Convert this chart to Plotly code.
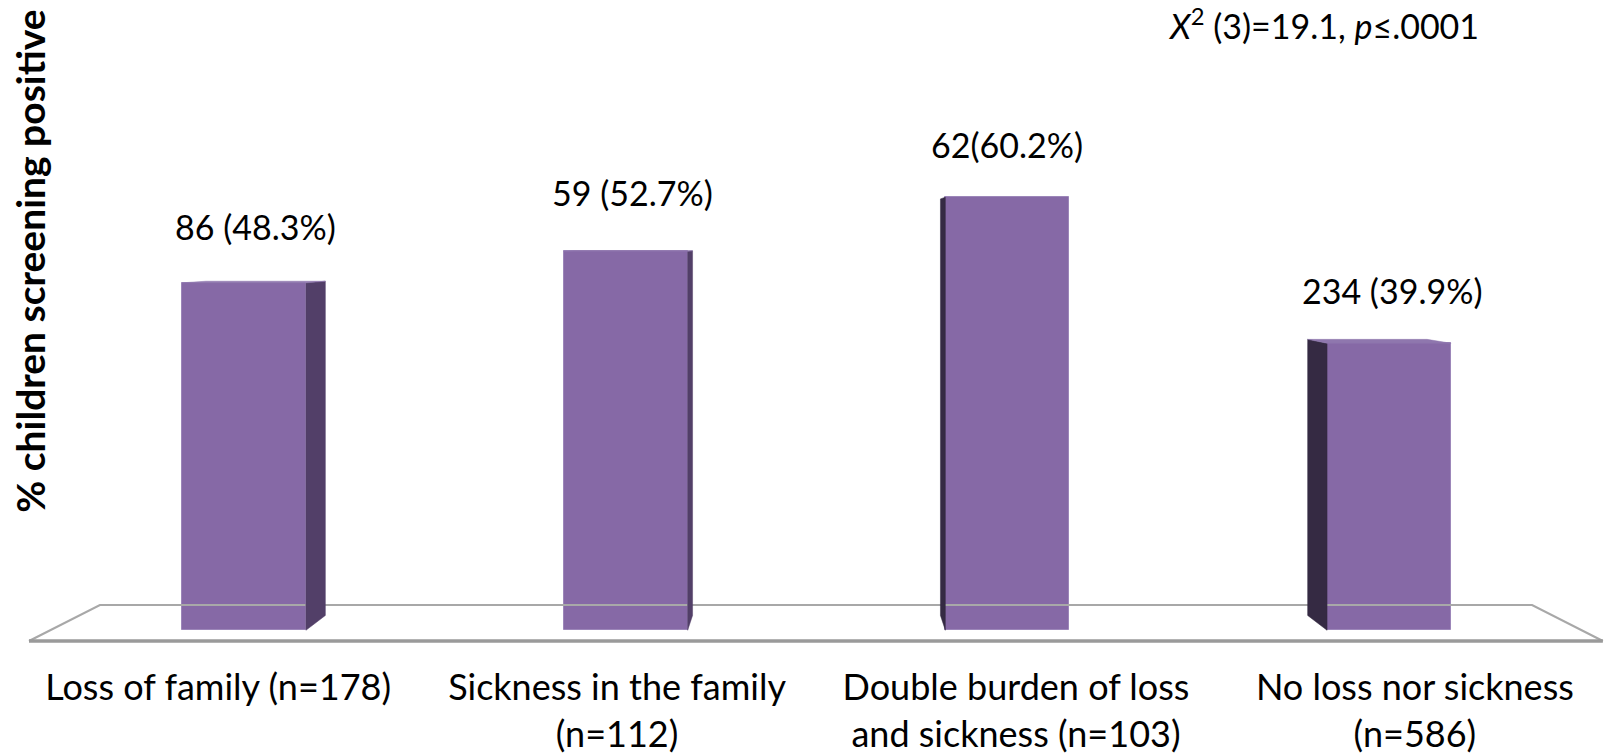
import plotly.graph_objects as go

# Screening results by family situation
categories = [
    "Loss of family (n=178)",
    "Sickness in the family<br>(n=112)",
    "Double burden of loss<br>and sickness (n=103)",
    "No loss nor sickness<br>(n=586)",
]
counts = [86, 59, 62, 234]
percents = [48.3, 52.7, 60.2, 39.9]
value_labels = ["86 (48.3%)", "59 (52.7%)", "62(60.2%)", "234 (39.9%)"]
stat_text = "<i>X</i><sup>2</sup> (3)=19.1, <i>p</i>≤.0001"
y_title = "% children screening positive"

# label nudges in pixels (x, y above bar top)
LABEL_DX = [12, 7, 0, 3]
LABEL_DY = [34, 36, 30, 30]

# --- pseudo-3D geometry (in data units) ---
BAR_W = 0.325          # width of the front face
VP_X, VP_Y = 1.5, 54.2 # vanishing point of the perspective
BAR_DEPTH = 0.962      # scale of a bar's back face toward the vanishing point
FLOOR_DEPTH = 0.91     # scale of the floor's back edge
FRONT_SCALE = 1.045    # category labels sit along the floor's front edge
FLOOR_FRONT_Y = -1.5
FLOOR_X0, FLOOR_X1 = -0.563, 3.56

FONT = "Lato"
FRONT = "#8669a6"
SIDE_RIGHT = "#523f68"
SIDE_LEFT = "#352a43"
TOP = "#8f77ae"


def back(x, y, s):
    return VP_X + (x - VP_X) * s, VP_Y + (y - VP_Y) * s


fig = go.Figure()

# floor: trapezoid seen in perspective
fl = (FLOOR_X0, FLOOR_FRONT_Y)
fr = (FLOOR_X1, FLOOR_FRONT_Y)
bl = back(*fl, FLOOR_DEPTH)
br = back(*fr, FLOOR_DEPTH)
fig.add_trace(go.Scatter(
    x=[fl[0], bl[0], br[0], fr[0]], y=[fl[1], bl[1], br[1], fr[1]],
    mode="lines", line=dict(color="#a8a8a8", width=2.2),
    hoverinfo="skip", showlegend=False,
))
fig.add_trace(go.Scatter(
    x=[fl[0], fr[0]], y=[fl[1], fr[1]],
    mode="lines", line=dict(color="#9a9a9a", width=3.5),
    hoverinfo="skip", showlegend=False,
))

# side and top faces of every bar
for i, v in enumerate(percents):
    left, right = i - BAR_W / 2, i + BAR_W / 2
    edge = right if i < VP_X else left
    color = SIDE_RIGHT if i < VP_X else SIDE_LEFT
    b_top = back(edge, v, BAR_DEPTH)
    b_bot = back(edge, 0, BAR_DEPTH)
    fig.add_trace(go.Scatter(
        x=[edge, b_top[0], b_bot[0], edge, edge],
        y=[v, b_top[1], b_bot[1], 0, v],
        fill="toself", fillcolor=color, mode="lines",
        line=dict(color=color, width=0.5),
        hoverinfo="skip", showlegend=False,
    ))
    if v < VP_Y:
        tl = back(left, v, BAR_DEPTH)
        tr = back(right, v, BAR_DEPTH)
        fig.add_trace(go.Scatter(
            x=[left, tl[0], tr[0], right, left],
            y=[v, tl[1], tr[1], v, v],
            fill="toself", fillcolor=TOP, mode="lines",
            line=dict(color=TOP, width=0.5),
            hoverinfo="skip", showlegend=False,
        ))

# front faces
fig.add_trace(go.Bar(
    x=list(range(len(categories))), y=percents, width=BAR_W,
    marker=dict(color=FRONT, line=dict(color="#9c86b9", width=1)),
    customdata=counts,
    hovertemplate="%{y}% (%{customdata})<extra></extra>",
    showlegend=False,
))

# value labels above bars
for i, (v, t) in enumerate(zip(percents, value_labels)):
    fig.add_annotation(
        x=i, y=v, text=t, showarrow=False, xanchor="center", yanchor="bottom",
        xshift=LABEL_DX[i], yshift=LABEL_DY[i],
        font=dict(family=FONT, size=34, color="#000000"),
    )

fig.add_annotation(
    xref="paper", yref="paper", x=0.825, y=0.963, text=stat_text,
    showarrow=False, xanchor="center", yanchor="middle",
    font=dict(family=FONT, size=34, color="#000000"),
)

fig.add_annotation(
    xref="paper", yref="paper", x=0.019, y=0.60, text=f"<b>{y_title}</b>",
    textangle=-90, showarrow=False, xanchor="center", yanchor="middle",
    font=dict(family=FONT, size=39, color="#000000"),
)

tick_positions = [VP_X + (i - VP_X) * FRONT_SCALE for i in range(len(categories))]

fig.update_layout(
    width=1604, height=755,
    margin=dict(l=0, r=0, t=0, b=95),
    paper_bgcolor="white", plot_bgcolor="white",
    bargap=0,
    xaxis=dict(
        range=[-0.639, 3.563], tickvals=tick_positions,
        ticktext=categories, showgrid=False, zeroline=False, showline=False,
        ticks="", tickfont=dict(family=FONT, size=36, color="#000000"),
        ticklabelstandoff=10,
    ),
    yaxis=dict(
        range=[-3.16, 87.62], showgrid=False, zeroline=False, showline=False,
        showticklabels=False, ticks="",
    ),
)

fig.write_html("out.html")
